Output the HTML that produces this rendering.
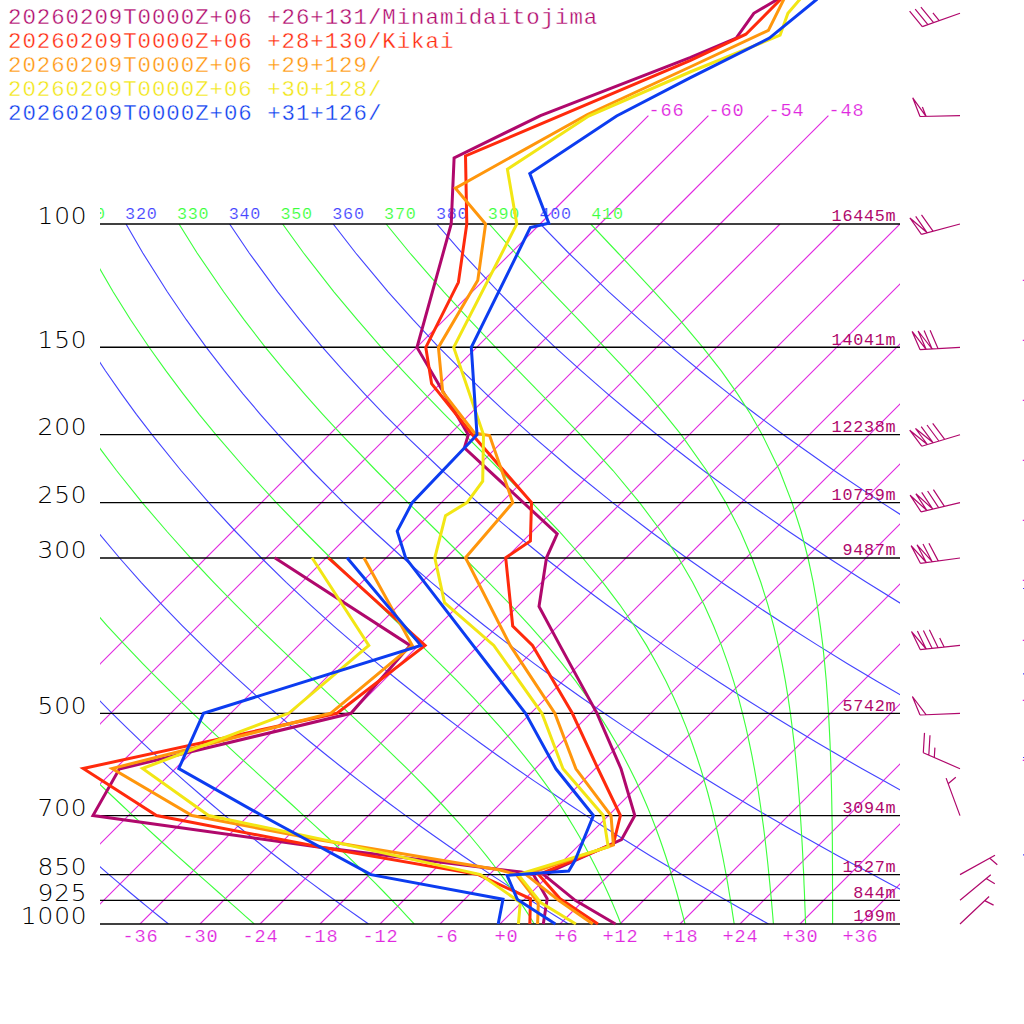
<!DOCTYPE html>
<html><head><meta charset="utf-8"><title>Skew-T</title>
<style>
html,body{margin:0;padding:0;background:#fff;overflow:hidden;}
svg{display:block;}
.m{font-family:"Liberation Mono","DejaVu Sans Mono",monospace;}
.e{stroke:#fff;stroke-width:0.35px;}
.e2{stroke:#fff;stroke-width:0.18px;}
.m18{font-size:16.8px;letter-spacing:0.72px;}
.m20{font-size:18.6px;letter-spacing:0.84px;}
.m24{font-size:22.4px;letter-spacing:0.96px;}
.p{font-family:"DejaVu Sans","Liberation Sans",sans-serif;font-weight:200;font-size:23px;letter-spacing:0.8px;fill:#000;}
.t{fill:none;stroke-width:1.12;}
.d{fill:none;stroke-width:3;stroke-linejoin:miter;stroke-miterlimit:8;stroke-linecap:butt;}
</style></head><body>
<svg width="1024" height="1024" viewBox="0 0 1024 1024">
<rect width="1024" height="1024" fill="#fff"/>
<defs><clipPath id="c"><rect x="100" y="224" width="800" height="700"/></clipPath><clipPath id="cl"><rect x="100" y="0" width="800" height="1024"/></clipPath></defs>
<g class="t" stroke="#e028e0" clip-path="url(#c)">
<line x1="-160.0" y1="924" x2="540.0" y2="224"/>
<line x1="-100.0" y1="924" x2="600.0" y2="224"/>
<line x1="-40.0" y1="924" x2="660.0" y2="224"/>
<line x1="20.0" y1="924" x2="720.0" y2="224"/>
<line x1="80.0" y1="924" x2="780.0" y2="224"/>
<line x1="140.0" y1="924" x2="840.0" y2="224"/>
<line x1="200.0" y1="924" x2="900.0" y2="224"/>
<line x1="260.0" y1="924" x2="960.0" y2="224"/>
<line x1="320.0" y1="924" x2="1020.0" y2="224"/>
<line x1="380.0" y1="924" x2="1080.0" y2="224"/>
<line x1="440.0" y1="924" x2="1140.0" y2="224"/>
<line x1="500.0" y1="924" x2="1200.0" y2="224"/>
<line x1="560.0" y1="924" x2="1260.0" y2="224"/>
<line x1="620.0" y1="924" x2="1320.0" y2="224"/>
<line x1="680.0" y1="924" x2="1380.0" y2="224"/>
<line x1="740.0" y1="924" x2="1440.0" y2="224"/>
<line x1="800.0" y1="924" x2="1500.0" y2="224"/>
<line x1="860.0" y1="924" x2="1560.0" y2="224"/>
</g>
<g class="t" stroke="#e028e0">
<line x1="540.0" y1="224" x2="648.4" y2="115.6"/>
<line x1="600.0" y1="224" x2="708.4" y2="115.6"/>
<line x1="660.0" y1="224" x2="768.4" y2="115.6"/>
<line x1="720.0" y1="224" x2="828.4" y2="115.6"/>
</g>
<g class="t" stroke="#4444ff" stroke-width="1.4" clip-path="url(#c)">
<polyline points="-288.4,224.0 -283.0,253.0 -274.4,291.8 -267.1,319.7 -259.0,347.3 -251.3,370.7 -243.0,394.1 -235.2,414.3 -226.9,434.7 -210.8,470.5 -194.9,502.6 -179.3,531.5 -164.0,558.0 -149.0,582.3 -134.3,604.8 -119.8,625.8 -105.7,645.4 -91.9,663.9 -78.3,681.2 -65.0,697.7 -52.0,713.3 -39.2,728.1 -26.6,742.3 -14.2,755.8 -2.1,768.7 9.8,781.1 21.5,793.0 33.1,804.5 44.4,815.6 55.6,826.2 66.6,836.5 77.4,846.5 88.1,856.2 98.6,865.5 109.0,874.6 119.3,883.4 129.4,892.0 139.3,900.3 149.2,908.4 158.9,916.3 168.5,924.0"/>
<polyline points="-184.8,224.0 -176.6,253.0 -164.0,291.8 -153.8,319.7 -142.7,347.3 -132.4,370.7 -121.4,394.1 -111.4,414.3 -100.6,434.7 -80.2,470.5 -60.4,502.6 -41.0,531.5 -22.2,558.0 -3.9,582.3 13.9,604.8 31.3,625.8 48.2,645.4 64.8,663.9 80.9,681.2 96.7,697.7 112.1,713.3 127.2,728.1 142.0,742.3 156.5,755.8 170.7,768.7 184.7,781.1 198.4,793.0 211.8,804.5 225.0,815.6 238.0,826.2 250.8,836.5 263.4,846.5 275.8,856.2 287.9,865.5 299.9,874.6 311.8,883.4 323.4,892.0 334.9,900.3 346.3,908.4 357.5,916.3 368.5,924.0"/>
<polyline points="-81.2,224.0 -70.1,253.0 -53.6,291.8 -40.4,319.7 -26.3,347.3 -13.5,370.7 0.1,394.1 12.5,414.3 25.7,434.7 50.4,470.5 74.2,502.6 97.3,531.5 119.6,558.0 141.1,582.3 162.1,604.8 182.4,625.8 202.2,645.4 221.4,663.9 240.1,681.2 258.4,697.7 276.2,713.3 293.6,728.1 310.6,742.3 327.3,755.8 343.6,768.7 359.6,781.1 375.2,793.0 390.6,804.5 405.7,815.6 420.5,826.2 435.0,836.5 449.3,846.5 463.4,856.2 477.2,865.5 490.9,874.6 504.3,883.4 517.5,892.0 530.5,900.3 543.4,908.4 556.0,916.3 568.5,924.0"/>
<polyline points="22.4,224.0 36.3,253.0 56.8,291.8 72.9,319.7 90.0,347.3 105.4,370.7 121.7,394.1 136.4,414.3 152.0,434.7 181.0,470.5 208.8,502.6 235.6,531.5 261.4,558.0 286.2,582.3 310.3,604.8 333.5,625.8 356.1,645.4 378.0,663.9 399.3,681.2 420.0,697.7 440.3,713.3 460.0,728.1 479.2,742.3 498.0,755.8 516.4,768.7 534.4,781.1 552.1,793.0 569.3,804.5 586.3,815.6 602.9,826.2 619.2,836.5 635.3,846.5 651.0,856.2 666.5,865.5 681.8,874.6 696.8,883.4 711.6,892.0 726.1,900.3 740.5,908.4 754.6,916.3 768.5,924.0"/>
<polyline points="126.0,224.0 142.8,253.0 167.3,291.8 186.3,319.7 206.3,347.3 224.3,370.7 243.2,394.1 260.3,414.3 278.3,434.7 311.6,470.5 343.4,502.6 373.9,531.5 403.1,558.0 431.3,582.3 458.4,604.8 484.6,625.8 510.0,645.4 534.6,663.9 558.5,681.2 581.7,697.7 604.3,713.3 626.3,728.1 647.8,742.3 668.8,755.8 689.3,768.7 709.3,781.1 728.9,793.0 748.1,804.5 766.9,815.6 785.4,826.2 803.5,836.5 821.2,846.5 838.7,856.2 855.9,865.5 872.7,874.6 889.3,883.4 905.6,892.0 921.7,900.3 937.5,908.4 953.1,916.3 968.5,924.0"/>
<polyline points="229.6,224.0 249.2,253.0 277.7,291.8 299.6,319.7 322.6,347.3 343.2,370.7 364.8,394.1 384.1,414.3 404.5,434.7 442.2,470.5 478.0,502.6 512.2,531.5 544.9,558.0 576.4,582.3 606.6,604.8 635.8,625.8 664.0,645.4 691.3,663.9 717.7,681.2 743.4,697.7 768.4,713.3 792.7,728.1 816.4,742.3 839.5,755.8 862.1,768.7 884.2,781.1 905.7,793.0 926.8,804.5 947.5,815.6 967.8,826.2 987.7,836.5 1007.2,846.5 1026.3,856.2 1045.2,865.5 1063.6,874.6 1081.8,883.4 1099.7,892.0 1117.3,900.3 1134.6,908.4 1151.7,916.3 1168.5,924.0"/>
<polyline points="333.2,224.0 355.7,253.0 388.1,291.8 413.0,319.7 438.9,347.3 462.1,370.7 486.3,394.1 508.0,414.3 530.8,434.7 572.8,470.5 612.6,502.6 650.5,531.5 686.7,558.0 721.4,582.3 754.8,604.8 786.9,625.8 817.9,645.4 847.9,663.9 876.9,681.2 905.1,697.7 932.5,713.3 959.1,728.1 985.0,742.3 1010.3,755.8 1034.9,768.7 1059.0,781.1 1082.6,793.0 1105.6,804.5 1128.2,815.6 1150.2,826.2 1171.9,836.5 1193.1,846.5 1214.0,856.2 1234.5,865.5 1254.6,874.6 1274.3,883.4 1293.8,892.0 1312.9,900.3 1331.7,908.4 1350.3,916.3 1368.5,924.0"/>
<polyline points="436.8,224.0 462.1,253.0 498.5,291.8 526.3,319.7 555.2,347.3 581.0,370.7 607.9,394.1 631.9,414.3 657.1,434.7 703.4,470.5 747.2,502.6 788.8,531.5 828.5,558.0 866.5,582.3 902.9,604.8 938.0,625.8 971.8,645.4 1004.5,663.9 1036.1,681.2 1066.8,697.7 1096.5,713.3 1125.5,728.1 1153.6,742.3 1181.0,755.8 1207.8,768.7 1233.9,781.1 1259.4,793.0 1284.4,804.5 1308.8,815.6 1332.7,826.2 1356.1,836.5 1379.1,846.5 1401.6,856.2 1423.8,865.5 1445.5,874.6 1466.9,883.4 1487.8,892.0 1508.5,900.3 1528.8,908.4 1548.8,916.3 1568.5,924.0"/>
<polyline points="540.4,224.0 568.6,253.0 608.9,291.8 639.6,319.7 671.6,347.3 699.9,370.7 729.4,394.1 755.8,414.3 783.4,434.7 834.0,470.5 881.8,502.6 927.1,531.5 970.3,558.0 1011.6,582.3 1051.1,604.8 1089.1,625.8 1125.8,645.4 1161.1,663.9 1195.3,681.2 1228.5,697.7 1260.6,713.3 1291.8,728.1 1322.2,742.3 1351.8,755.8 1380.6,768.7 1408.8,781.1 1436.3,793.0 1463.1,804.5 1489.4,815.6 1515.1,826.2 1540.3,836.5 1565.1,846.5 1589.3,856.2 1613.1,865.5 1636.4,874.6 1659.4,883.4 1681.9,892.0 1704.1,900.3 1725.9,908.4 1747.4,916.3 1768.5,924.0"/>
</g>
<g class="t" stroke="#3cff3c" stroke-width="1.4" clip-path="url(#c)">
<polyline points="-31.5,224.0 -60.5,253.0 -99.3,291.8 -127.2,319.7 -154.8,347.3 -178.2,370.7 -181.4,394.1 -172.5,414.3 -163.0,434.7 -144.8,470.5 -127.0,502.6 -109.5,531.5 -92.5,558.0 -75.8,582.3 -59.6,604.8 -43.8,625.8 -28.3,645.4 -13.1,663.9 1.7,681.2 16.1,697.7 30.3,713.3 44.1,728.1 57.7,742.3 70.9,755.8 83.9,768.7 96.5,781.1 108.9,793.0 121.1,804.5 132.9,815.6 144.5,826.2 155.8,836.5 166.9,846.5 177.6,856.2 188.1,865.5 198.4,874.6 208.4,883.4 218.1,892.0 227.5,900.3 236.7,908.4 245.6,916.3 254.3,924.0"/>
<polyline points="-31.5,224.0 -60.5,253.0 -99.3,291.8 -96.2,319.7 -83.6,347.3 -72.1,370.7 -59.8,394.1 -48.6,414.3 -36.6,434.7 -14.1,470.5 7.7,502.6 28.8,531.5 49.3,558.0 69.2,582.3 88.5,604.8 107.2,625.8 125.4,645.4 143.0,663.9 160.1,681.2 176.7,697.7 192.8,713.3 208.5,728.1 223.6,742.3 238.2,755.8 252.3,768.7 265.9,781.1 279.0,793.0 291.7,804.5 303.8,815.6 315.4,826.2 326.6,836.5 337.3,846.5 347.5,856.2 357.2,865.5 366.6,874.6 375.5,883.4 383.9,892.0 392.0,900.3 399.8,908.4 407.1,916.3 414.2,924.0"/>
<polyline points="-28.4,224.0 -15.9,253.0 2.6,291.8 17.2,319.7 32.8,347.3 46.9,370.7 61.8,394.1 75.3,414.3 89.7,434.7 116.5,470.5 142.2,502.6 167.0,531.5 190.8,558.0 213.7,582.3 235.7,604.8 256.8,625.8 277.1,645.4 296.4,663.9 314.9,681.2 332.5,697.7 349.2,713.3 365.0,728.1 379.9,742.3 393.9,755.8 407.1,768.7 419.5,781.1 431.1,793.0 442.0,804.5 452.2,815.6 461.7,826.2 470.6,836.5 478.9,846.5 486.7,856.2 494.0,865.5 500.9,874.6 507.3,883.4 513.4,892.0 519.1,900.3 524.4,908.4 529.5,916.3 534.3,924.0"/>
<polyline points="75.3,224.0 90.6,253.0 113.1,291.8 130.6,319.7 149.1,347.3 165.8,370.7 183.4,394.1 199.2,414.3 215.9,434.7 246.9,470.5 276.3,502.6 304.2,531.5 330.6,558.0 355.6,582.3 379.0,604.8 400.9,625.8 421.3,645.4 440.1,663.9 457.4,681.2 473.3,697.7 487.8,713.3 501.1,728.1 513.2,742.3 524.2,755.8 534.3,768.7 543.5,781.1 552.0,793.0 559.7,804.5 566.8,815.6 573.3,826.2 579.4,836.5 585.0,846.5 590.1,856.2 594.9,865.5 599.4,874.6 603.6,883.4 607.5,892.0 611.2,900.3 614.6,908.4 617.9,916.3 620.9,924.0"/>
<polyline points="179.0,224.0 197.1,253.0 223.6,291.8 244.0,319.7 265.4,347.3 284.6,370.7 304.7,394.1 322.7,414.3 341.5,434.7 376.0,470.5 407.9,502.6 437.4,531.5 464.3,558.0 488.6,582.3 510.5,604.8 529.9,625.8 547.1,645.4 562.3,663.9 575.7,681.2 587.6,697.7 598.1,713.3 607.4,728.1 615.8,742.3 623.2,755.8 629.9,768.7 636.0,781.1 641.4,793.0 646.4,804.5 651.0,815.6 655.1,826.2 658.9,836.5 662.4,846.5 665.7,856.2 668.7,865.5 671.5,874.6 674.1,883.4 676.6,892.0 678.9,900.3 681.0,908.4 683.1,916.3 685.0,924.0"/>
<polyline points="282.6,224.0 303.6,253.0 333.9,291.8 357.2,319.7 381.3,347.3 402.7,370.7 424.9,394.1 444.5,414.3 464.7,434.7 500.4,470.5 531.9,502.6 559.3,531.5 582.8,558.0 602.8,582.3 619.8,604.8 634.2,625.8 646.5,645.4 656.9,663.9 666.0,681.2 673.8,697.7 680.6,713.3 686.6,728.1 691.8,742.3 696.5,755.8 700.7,768.7 704.4,781.1 707.8,793.0 710.8,804.5 713.6,815.6 716.1,826.2 718.5,836.5 720.6,846.5 722.6,856.2 724.4,865.5 726.1,874.6 727.7,883.4 729.1,892.0 730.5,900.3 731.8,908.4 733.0,916.3 734.2,924.0"/>
<polyline points="386.1,224.0 409.9,253.0 443.8,291.8 469.4,319.7 495.6,347.3 518.3,370.7 541.2,394.1 560.8,414.3 580.4,434.7 613.0,470.5 639.6,502.6 661.2,531.5 678.5,558.0 692.6,582.3 704.1,604.8 713.5,625.8 721.4,645.4 728.0,663.9 733.6,681.2 738.4,697.7 742.5,713.3 746.1,728.1 749.2,742.3 752.0,755.8 754.4,768.7 756.6,781.1 758.6,793.0 760.3,804.5 761.9,815.6 763.4,826.2 764.7,836.5 765.9,846.5 767.0,856.2 768.0,865.5 768.9,874.6 769.8,883.4 770.6,892.0 771.4,900.3 772.1,908.4 772.8,916.3 773.4,924.0"/>
<polyline points="489.2,224.0 515.3,253.0 551.7,291.8 578.4,319.7 604.7,347.3 626.6,370.7 647.7,394.1 664.8,414.3 681.1,434.7 706.5,470.5 725.8,502.6 740.5,531.5 751.9,558.0 760.8,582.3 767.9,604.8 773.6,625.8 778.3,645.4 782.2,663.9 785.4,681.2 788.1,697.7 790.4,713.3 792.3,728.1 794.0,742.3 795.5,755.8 796.7,768.7 797.8,781.1 798.8,793.0 799.7,804.5 800.4,815.6 801.1,826.2 801.7,836.5 802.3,846.5 802.8,856.2 803.2,865.5 803.7,874.6 804.0,883.4 804.4,892.0 804.7,900.3 805.0,908.4 805.3,916.3 805.6,924.0"/>
<polyline points="590.7,224.0 618.0,253.0 654.3,291.8 679.5,319.7 702.8,347.3 721.1,370.7 737.7,394.1 750.6,414.3 762.2,434.7 779.6,470.5 792.0,502.6 801.2,531.5 808.0,558.0 813.2,582.3 817.2,604.8 820.3,625.8 822.8,645.4 824.7,663.9 826.3,681.2 827.5,697.7 828.5,713.3 829.3,728.1 830.0,742.3 830.5,755.8 831.0,768.7 831.3,781.1 831.6,793.0 831.8,804.5 832.0,815.6 832.2,826.2 832.3,836.5 832.4,846.5 832.4,856.2 832.5,865.5 832.5,874.6 832.5,883.4 832.6,892.0 832.6,900.3 832.6,908.4 832.6,916.3 832.6,924.0"/>
</g>
<g class="m m18 e2" clip-path="url(#cl)">
<text x="73.3" y="219" fill="#3cff3c">310</text>
<text x="125.1" y="219" fill="#4444ff">320</text>
<text x="176.9" y="219" fill="#3cff3c">330</text>
<text x="228.7" y="219" fill="#4444ff">340</text>
<text x="280.5" y="219" fill="#3cff3c">350</text>
<text x="332.3" y="219" fill="#4444ff">360</text>
<text x="384.1" y="219" fill="#3cff3c">370</text>
<text x="435.9" y="219" fill="#4444ff">380</text>
<text x="487.7" y="219" fill="#3cff3c">390</text>
<text x="539.5" y="219" fill="#4444ff">400</text>
<text x="591.3" y="219" fill="#3cff3c">410</text>
</g>
<g stroke="#000" stroke-width="1.3">
<line x1="100" y1="224.00" x2="900" y2="224.00"/>
<line x1="100" y1="347.26" x2="900" y2="347.26"/>
<line x1="100" y1="434.72" x2="900" y2="434.72"/>
<line x1="100" y1="502.56" x2="900" y2="502.56"/>
<line x1="100" y1="557.98" x2="900" y2="557.98"/>
<line x1="100" y1="713.28" x2="900" y2="713.28"/>
<line x1="100" y1="815.57" x2="900" y2="815.57"/>
<line x1="100" y1="874.59" x2="900" y2="874.59"/>
<line x1="100" y1="900.30" x2="900" y2="900.30"/>
<line x1="100" y1="924.00" x2="900" y2="924.00"/>
</g>
<g class="p" text-anchor="end">
<text transform="translate(87.5,224.3) scale(1.08,1)">100</text>
<text transform="translate(87.5,347.6) scale(1.08,1)">150</text>
<text transform="translate(87.5,435.0) scale(1.08,1)">200</text>
<text transform="translate(87.5,502.9) scale(1.08,1)">250</text>
<text transform="translate(87.5,558.3) scale(1.08,1)">300</text>
<text transform="translate(87.5,713.6) scale(1.08,1)">500</text>
<text transform="translate(87.5,815.9) scale(1.08,1)">700</text>
<text transform="translate(87.5,874.9) scale(1.08,1)">850</text>
<text transform="translate(87.5,900.6) scale(1.08,1)">925</text>
<text transform="translate(87.5,924.3) scale(1.08,1)">1000</text>
</g>
<g class="m m20 e2" fill="#e028e0">
<text x="122.4" y="942">-36</text>
<text x="182.4" y="942">-30</text>
<text x="242.4" y="942">-24</text>
<text x="302.4" y="942">-18</text>
<text x="362.4" y="942">-12</text>
<text x="434.4" y="942">-6</text>
<text x="494.4" y="942">+0</text>
<text x="554.4" y="942">+6</text>
<text x="602.4" y="942">+12</text>
<text x="662.4" y="942">+18</text>
<text x="722.4" y="942">+24</text>
<text x="782.4" y="942">+30</text>
<text x="842.4" y="942">+36</text>
<text x="648.4" y="116">-66</text>
<text x="708.4" y="116">-60</text>
<text x="768.4" y="116">-54</text>
<text x="828.4" y="116">-48</text>
</g>
<path d="M1022.8,280.4h2M1022.8,340.4h2M1022.8,400.4h2M1022.8,460.4h2M1022.8,520.4h2M1022.8,580.4h2M1022.8,640.4h2M1022.8,700.4h2M1022.8,760.4h2" stroke="#e028e0" stroke-width="1.3"/>
<path d="M1023,588.5h2M1023,673.8h2M1023,757.5h2M1023,854.8h2" stroke="#4444ff" stroke-width="1.2"/>
<g class="m m24 e">
<text x="8" y="23.5" fill="#b0086c">20260209T0000Z+06 +26+131/Minamidaitojima</text>
<text x="8" y="47.5" fill="#ff2a0c">20260209T0000Z+06 +28+130/Kikai</text>
<text x="8" y="71.5" fill="#ff960c">20260209T0000Z+06 +29+129/</text>
<text x="8" y="95.5" fill="#f2e614">20260209T0000Z+06 +30+128/</text>
<text x="8" y="119.5" fill="#0c3cf0">20260209T0000Z+06 +31+126/</text>
</g>
<g class="m m18" fill="#b0086c">
<text x="831.6" y="221.4">16445m</text>
<text x="831.6" y="344.7">14041m</text>
<text x="831.6" y="432.1">12238m</text>
<text x="831.6" y="500.0">10759m</text>
<text x="842.4" y="555.4">9487m</text>
<text x="842.4" y="710.7">5742m</text>
<text x="842.4" y="813.0">3094m</text>
<text x="842.4" y="872.0">1527m</text>
<text x="853.2" y="897.7">844m</text>
<text x="853.2" y="921.4">199m</text>
</g>
<g fill="none" stroke="#b0086c" stroke-width="1.2" stroke-linejoin="miter">
<path d="M960.0,13.3L922.3,26.6M922.3,26.6L909.6,11.1M927.9,24.6L915.2,9.1M933.6,22.6L920.9,7.1M939.2,20.6L932.9,12.9"/>
<path d="M960.0,115.6L920.0,116.5M920.0,116.5L912.7,97.8L926.0,116.3M926.0,116.3L922.4,107.0"/>
<path d="M960.0,224.0L921.4,234.4M921.4,234.4L909.9,218.0L927.2,232.8M927.2,232.8L915.7,216.4M933.0,231.2L921.5,214.9"/>
<path d="M960.0,347.3L920.1,349.7M920.1,349.7L912.1,331.4L926.1,349.3M926.1,349.3L918.1,331.0L932.1,349.0M932.1,349.0L924.1,330.6M938.0,348.6L930.1,330.3"/>
<path d="M960.0,434.7L921.7,446.2M921.7,446.2L909.7,430.2L927.4,444.5M927.4,444.5L915.5,428.5L933.2,442.8M933.2,442.8L921.2,426.7M938.9,441.0L927.0,425.0M944.7,439.3L932.7,423.3"/>
<path d="M960.0,502.6L921.1,511.9M921.1,511.9L910.1,495.2L926.9,510.5M926.9,510.5L915.9,493.8L932.8,509.1M932.8,509.1L921.7,492.4M938.6,507.7L927.6,491.0M944.4,506.3L933.4,489.6"/>
<path d="M960.0,558.0L920.4,563.3M920.4,563.3L911.1,545.6L926.3,562.5M926.3,562.5L917.0,544.8L932.2,561.7M932.2,561.7L923.0,544.0M938.2,560.9L928.9,543.2"/>
<path d="M960.0,645.4L920.2,649.6M920.2,649.6L911.5,631.6L926.2,649.0M926.2,649.0L917.4,631.0M932.2,648.4L923.4,630.4M938.1,647.7L929.4,629.8M944.1,647.1L939.7,638.1"/>
<path d="M960.0,713.3L920.0,715.0M920.0,715.0L912.4,696.5L926.0,714.7"/>
<path d="M960.0,768.7L923.3,752.8M923.3,752.8L924.5,732.9M928.8,755.2L930.0,735.2M934.3,757.6L934.9,747.6"/>
<path d="M960.0,815.6L946.1,778.1M948.1,783.7L955.8,777.2"/>
<path d="M960.0,874.6L995.0,855.3M989.8,858.2L997.3,864.7"/>
<path d="M960.0,900.3L990.8,874.8M986.2,878.6L994.8,883.7"/>
<path d="M960.0,924.0L989.1,896.5M984.7,900.6L993.6,905.1"/>
</g>
<g class="d" stroke="#b0086c">
<polyline points="274.7,557.8 410.1,645.4 351.0,713.3 119.3,769.0 93.0,815.5 320.0,847.3 521.0,872.0 533.4,874.6 547.2,898.8 543.3,924.0"/>
<polyline points="778.2,-1.0 753.8,13.3 736.2,38.1 690.0,57.6 540.5,115.6 454.1,157.9 451.2,224.0 417.0,347.4 468.3,434.7 464.4,447.9 557.2,533.9 546.5,557.8 539.0,606.5 559.9,645.4 597.0,713.3 621.1,769.0 634.8,815.5 621.5,839.7 543.6,874.6 575.2,900.3 615.5,924.0"/>
</g>
<g class="d" stroke="#ff2a0c">
<polyline points="328.4,557.8 425.1,645.4 337.0,713.3 83.2,768.5 156.5,815.5 320.0,847.0 478.3,874.6 530.5,898.8 529.8,924.0"/>
<polyline points="781.0,-1.0 745.9,34.2 690.0,60.6 465.5,155.9 466.8,224.0 458.4,282.3 425.8,347.4 431.6,383.7 472.4,434.7 531.5,502.6 530.4,541.0 505.7,557.8 512.7,626.0 532.5,645.4 572.3,713.3 598.1,769.0 620.4,815.5 613.4,843.8 538.6,874.6 560.1,898.8 597.9,924.0"/>
</g>
<g class="d" stroke="#ff960c">
<polyline points="363.9,557.8 412.2,645.4 330.6,713.3 112.1,768.5 192.0,815.5 320.0,840.1 500.0,870.0 516.4,874.6 538.3,902.9 537.6,924.0"/>
<polyline points="784.0,-1.0 768.4,30.3 690.0,67.0 587.4,114.5 455.4,188.1 485.6,224.0 477.8,280.2 438.4,347.4 442.7,391.9 474.5,433.0 489.6,435.5 512.8,502.6 465.5,557.8 510.2,645.4 554.8,713.3 575.9,768.8 611.0,815.5 613.4,845.0 526.0,874.6 558.6,900.3 592.8,924.0"/>
</g>
<g class="d" stroke="#f2e614">
<polyline points="312.0,557.8 368.8,645.4 288.7,713.3 283.5,715.2 142.5,768.5 208.6,815.5 320.0,838.9 480.5,874.6 520.3,902.5 518.4,924.0"/>
<polyline points="800.2,-1.0 787.9,13.3 780.1,35.2 690.0,72.0 588.7,116.0 507.4,169.3 516.8,224.0 453.7,347.4 483.5,434.7 482.7,481.2 467.0,502.6 445.5,515.6 434.8,557.8 444.5,602.6 493.8,645.4 541.9,713.3 563.0,768.8 603.3,815.5 608.2,846.9 518.3,874.6 541.0,902.9 575.9,924.0"/>
</g>
<g class="d" stroke="#0c3cf0">
<polyline points="347.1,557.8 420.8,645.4 203.5,713.3 178.8,768.5 261.9,815.5 370.9,874.6 503.0,899.3 498.2,924.0"/>
<polyline points="817.2,-1.0 769.4,38.1 690.0,77.9 616.6,116.0 529.8,173.6 548.8,223.2 530.3,227.6 471.3,347.4 477.0,434.7 412.2,502.6 397.2,531.1 405.6,557.8 525.5,713.3 555.9,768.8 593.4,815.5 575.2,860.0 568.7,871.0 507.1,875.4 517.4,899.6 555.4,924.0"/>
</g>
</svg></body></html>
